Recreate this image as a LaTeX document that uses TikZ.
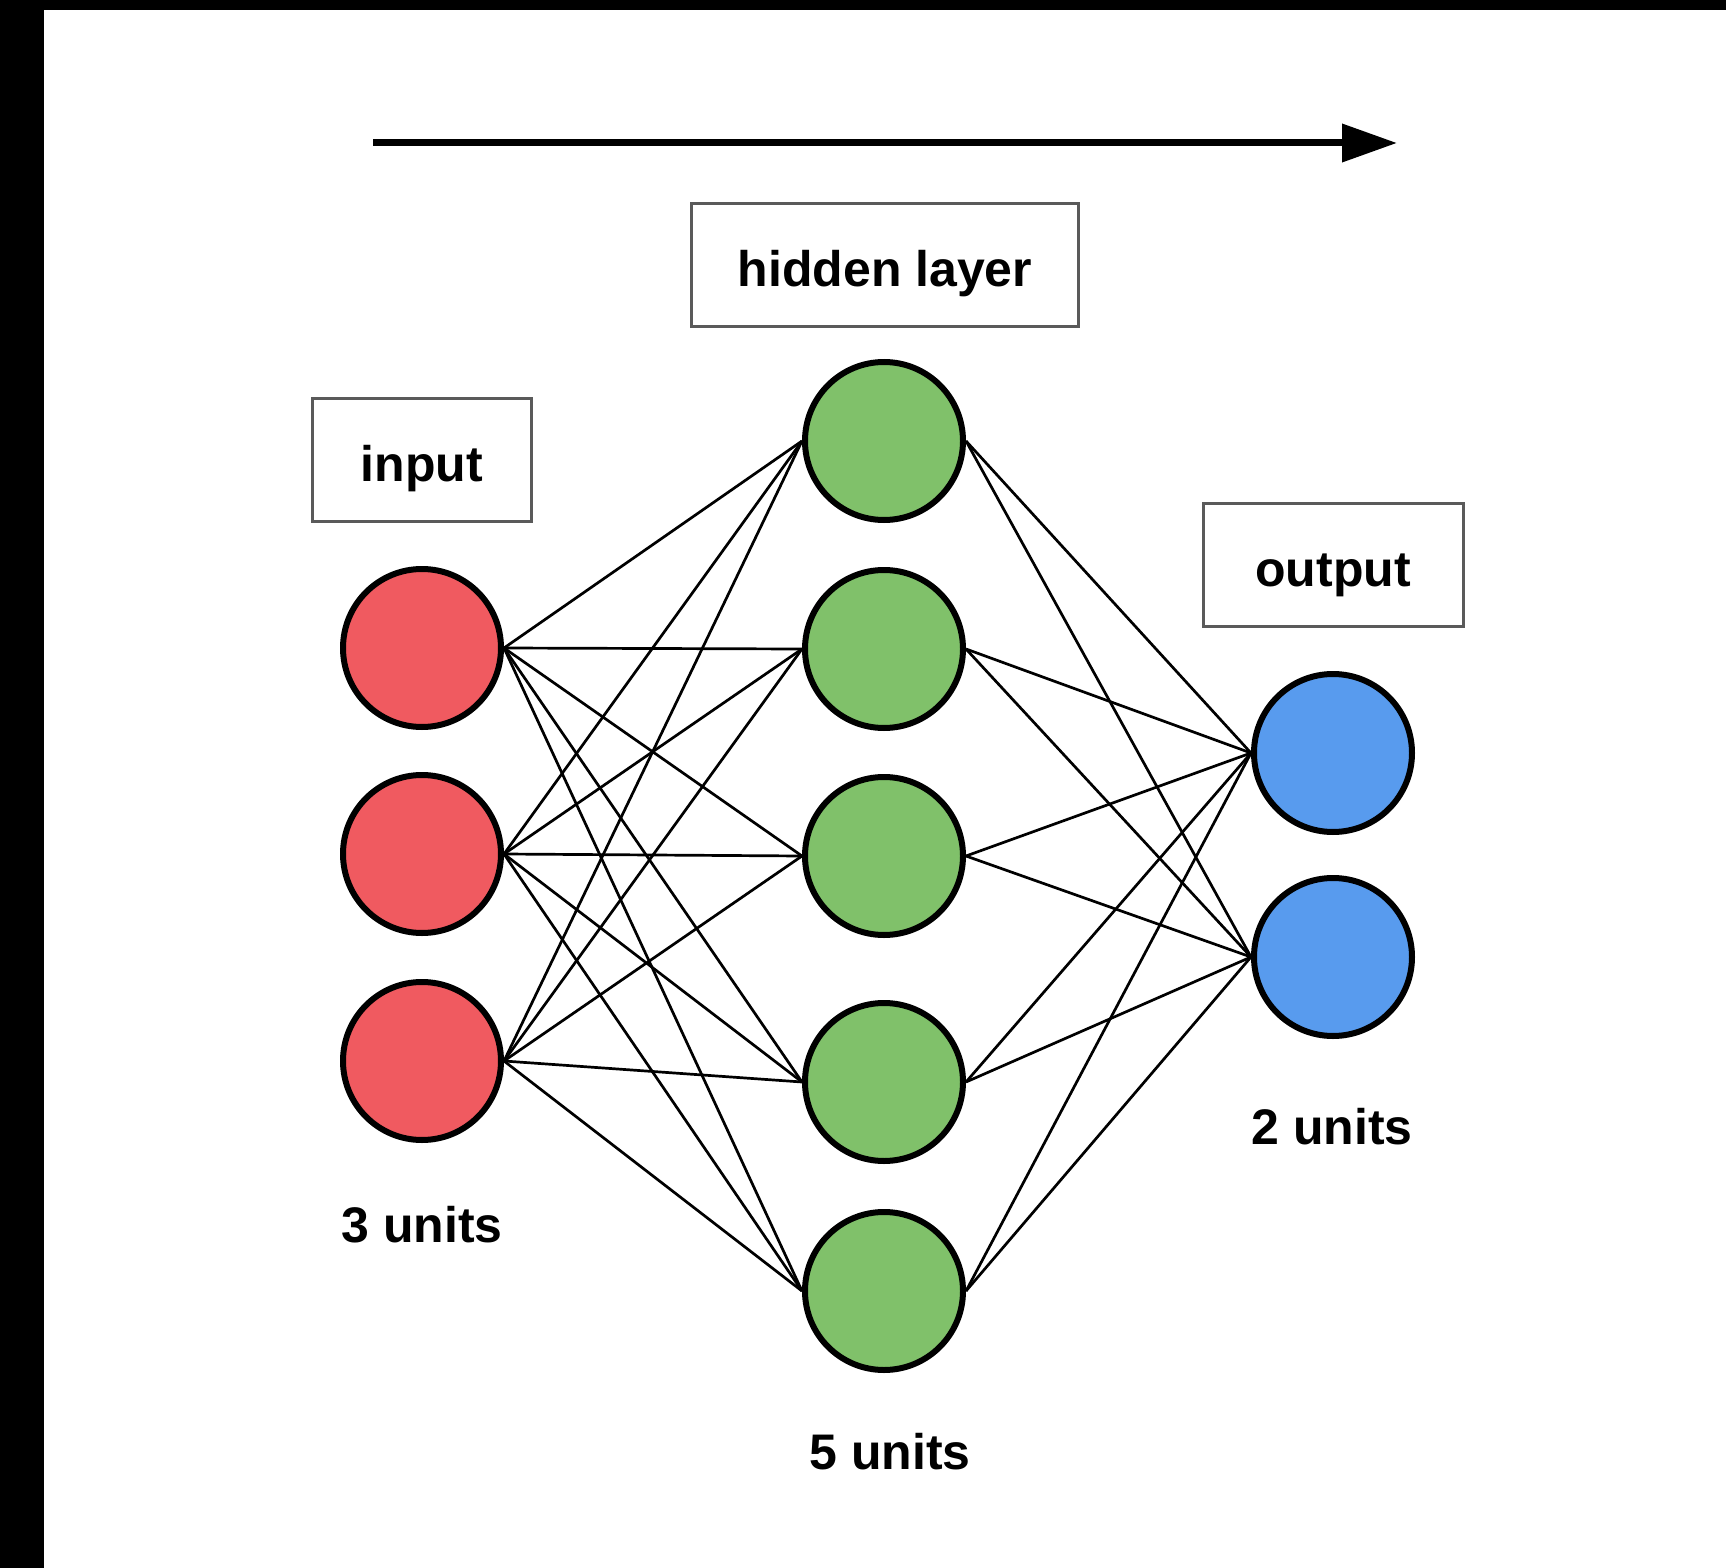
\documentclass[tikz,border=0pt]{standalone}
\usepackage{fontspec}
\setmainfont{Liberation Sans}
\usetikzlibrary{arrows.meta}
\definecolor{inred}{RGB}{240,90,96}
\definecolor{hidgreen}{RGB}{128,193,106}
\definecolor{outblue}{RGB}{88,155,238}
\definecolor{boxgray}{RGB}{90,90,90}
\begin{document}
\begin{tikzpicture}[x=0.5pt,y=-0.5pt,
  neuron/.style={circle, draw=black, line width=3pt, minimum size=79pt, inner sep=0pt},
  lbox/.style={draw=boxgray, line width=1.5pt, fill=white, minimum height=61.5pt, inner sep=0pt,
    text height=24pt, text depth=2.2pt,
    font=\fontsize{25}{30}\selectfont\bfseries},
  units/.style={inner sep=0pt, font=\fontsize{25}{30}\selectfont\bfseries},
  conn/.style={line width=1.35pt, black},
  flow/.style={line width=3.5pt, -{Triangle[length=27.5pt,width=18.5pt]}}]
\fill[black] (0,0) rectangle (1726,1568);
\fill[white] (44,10) rectangle (1726,1568);
\useasboundingbox (0,0) rectangle (1726,1568);

% direction arrow
\coordinate (as) at (373,143);
\coordinate (ae) at (1397,143);
\draw[flow] (as) -- (ae);

% label boxes
\node[lbox, minimum width=109.5pt] (inbox) at (422,460) {input};
\node[lbox, minimum width=193.5pt] (hidbox) at (885,265) {hidden layer};
\node[lbox, minimum width=130pt] (outbox) at (1333,565) {output};

% neurons
\node[neuron, fill=inred] (i1) at (422,648) {};
\node[neuron, fill=inred] (i2) at (422,854) {};
\node[neuron, fill=inred] (i3) at (422,1061) {};

\node[neuron, fill=hidgreen] (h1) at (884,441) {};
\node[neuron, fill=hidgreen] (h2) at (884,649) {};
\node[neuron, fill=hidgreen] (h3) at (884,856) {};
\node[neuron, fill=hidgreen] (h4) at (884,1082) {};
\node[neuron, fill=hidgreen] (h5) at (884,1291) {};

\node[neuron, fill=outblue] (o1) at (1333,753) {};
\node[neuron, fill=outblue] (o2) at (1333,957) {};

% connectors
\foreach \i in {1,2,3}
  \foreach \h in {1,...,5}
    \draw[conn] (i\i.east) -- (h\h.west);
\foreach \h in {1,...,5}
  \foreach \o in {1,2}
    \draw[conn] (h\h.east) -- (o\o.west);

% unit counts
\node[units] (u3) at (422,1225) {3 units};
\node[units] (u5) at (890,1452) {5 units};
\node[units] (u2) at (1332,1127) {2 units};
\end{tikzpicture}
\end{document}
